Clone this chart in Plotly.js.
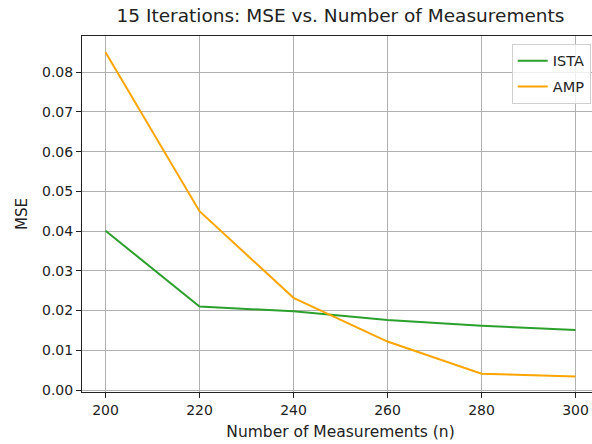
<!DOCTYPE html>
<html>
<head>
<meta charset="utf-8">
<script src="https://cdn.plot.ly/plotly-3.0.1.min.js"></script>
<style>
html,body{margin:0;padding:0;overflow:hidden;background:#fff;}
#chart{width:600px;height:444px;}
</style>
</head>
<body>
<div id="chart"></div>
<script>
const measurements = [200, 220, 240, 260, 280, 300];
const istaMSE = [0.0401, 0.0210, 0.0198, 0.0176, 0.0162, 0.0151];
const ampMSE = [0.0850, 0.0450, 0.0232, 0.0122, 0.0041, 0.0034];
const seriesNames = ['ISTA', 'AMP'];
const yTicks = [0, 0.01, 0.02, 0.03, 0.04, 0.05, 0.06, 0.07, 0.08];
const xTicks = [200, 220, 240, 260, 280, 300];

const font = 'DejaVu Sans, sans-serif';
const traces = [
  {x: measurements, y: istaMSE, name: seriesNames[0], mode: 'lines', legendgroup: 'a',
   line: {color: '#2ca02c', width: 2}},
  {x: measurements, y: ampMSE, name: seriesNames[1], mode: 'lines', legendgroup: 'b',
   line: {color: '#ffa500', width: 2}}
];

const axisCommon = {
  showgrid: true, gridcolor: '#b0b0b0', gridwidth: 1,
  zeroline: false, showline: true, linecolor: '#222', linewidth: 1, mirror: true,
  ticks: 'outside', ticklen: 5, tickcolor: '#222', tickwidth: 1,
  tickfont: {family: font, size: 14, color: '#222'}
};

const layout = {
  width: 600, height: 444,
  margin: {l: 82, r: 1, t: 36, b: 52},
  paper_bgcolor: '#fff', plot_bgcolor: '#fff',
  font: {family: font, color: '#222'},
  title: {text: '15 Iterations: MSE vs. Number of Measurements', font: {family: font, size: 18.5, color: '#222'},
          x: 0.5, xref: 'paper', xanchor: 'center', y: 1, yref: 'container', yanchor: 'top', pad: {t: 9}},
  xaxis: Object.assign({}, axisCommon, {
    range: [195, 305], tickvals: xTicks, ticktext: xTicks.map(String),
    title: {text: 'Number of Measurements (n)', font: {family: font, size: 15.5, color: '#222'}, standoff: 9}
  }),
  yaxis: Object.assign({}, axisCommon, {
    range: [-0.0005, 0.0891], tickvals: yTicks, ticktext: yTicks.map(v => v.toFixed(2)),
    title: {text: 'MSE', font: {family: font, size: 15, color: '#222'}, standoff: 10}
  }),
  showlegend: true,
  legend: {
    x: 0.984, xanchor: 'right', y: 0.978, yanchor: 'top',
    bgcolor: 'rgba(255,255,255,0.8)', bordercolor: '#d0d0d0', borderwidth: 1,
    font: {family: font, size: 14.5, color: '#222'},
    traceorder: 'grouped', tracegroupgap: 4, itemwidth: 30
  }
};

Plotly.newPlot('chart', traces, layout, {displayModeBar: false, staticPlot: true});
</script>
</body>
</html>
